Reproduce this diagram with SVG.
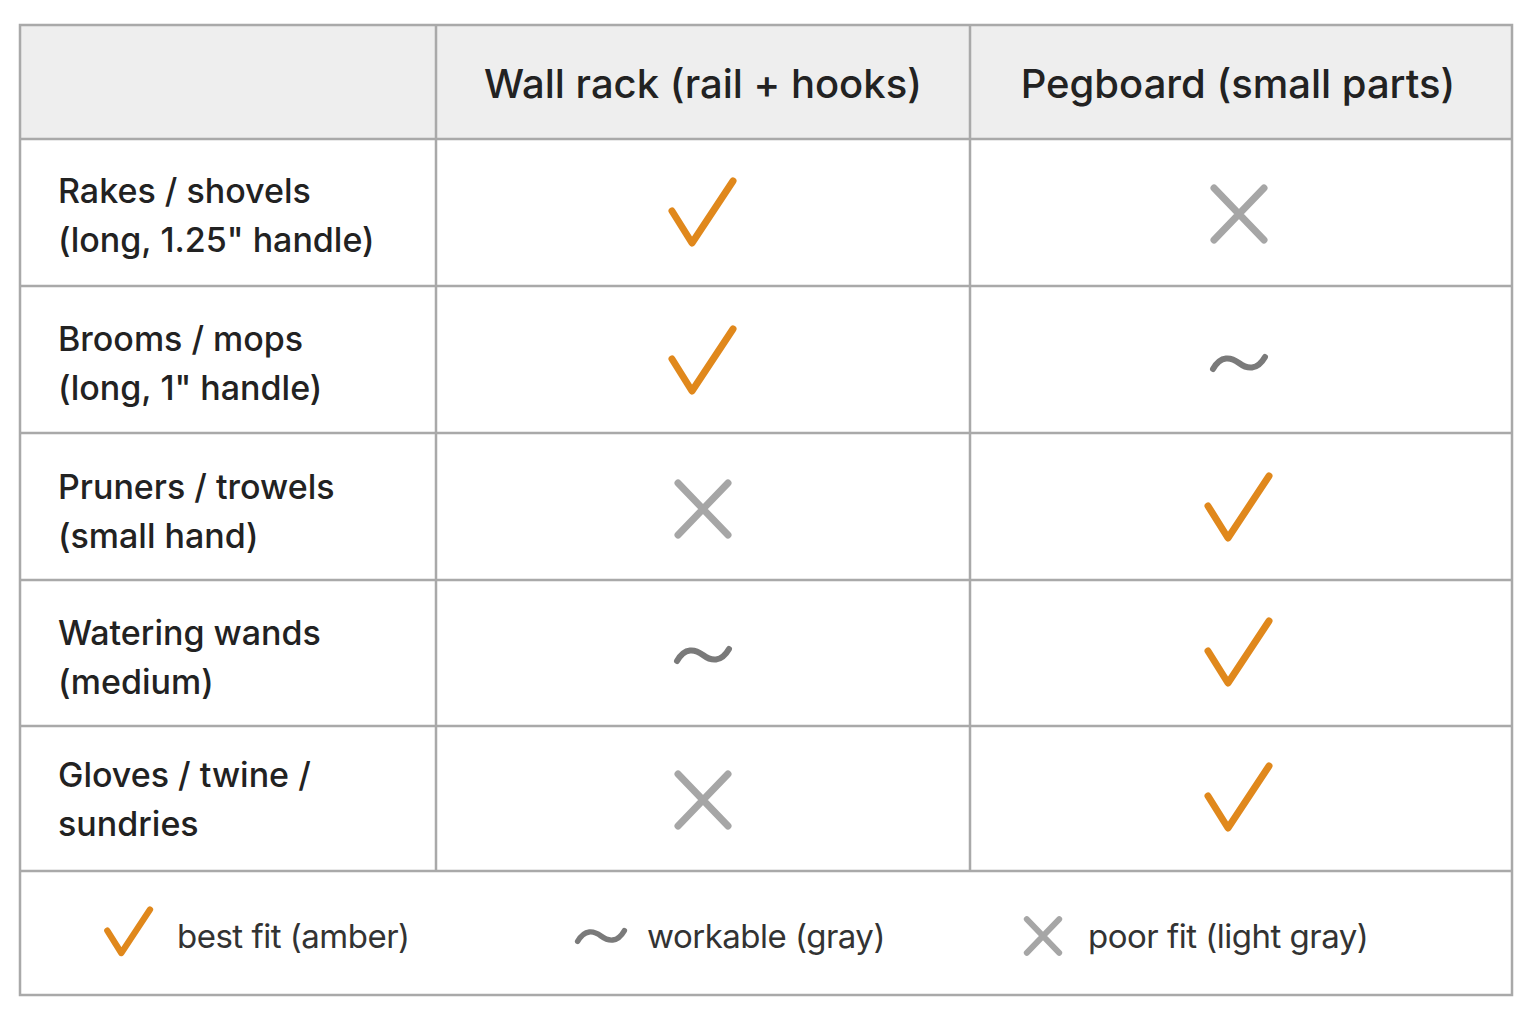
<svg xmlns="http://www.w3.org/2000/svg" xmlns:xlink="http://www.w3.org/1999/xlink" width="1536" height="1024" viewBox="0 0 1536 1024">
<style>
.grid{stroke:#a9a9a9;stroke-width:2.5;fill:none}
.hd{font-family:Inter,"Liberation Sans",sans-serif;font-size:40px;font-weight:500;fill:#222;text-anchor:middle}
.lb{font-family:Inter,"Liberation Sans",sans-serif;font-size:34px;font-weight:500;fill:#222}
.lg{font-family:Inter,"Liberation Sans",sans-serif;font-size:33px;fill:#333;letter-spacing:-0.5px}
.ck{stroke:#e0881c;stroke-width:7;fill:none;stroke-linecap:round;stroke-linejoin:round}
.xx{stroke:#a6a6a6;stroke-width:7;fill:none;stroke-linecap:round}
.tl{stroke:#7a7a7a;stroke-width:6;fill:none;stroke-linecap:round}
.ckl{stroke:#e0881c;stroke-width:9;fill:none;stroke-linecap:round;stroke-linejoin:round}
.xxl{stroke:#a6a6a6;stroke-width:9;fill:none;stroke-linecap:round}
</style>
<defs>
<path id="check" d="M-31,-2 L-11,30 L30,-32"/>
<path id="cross" d="M-25,-26 L25,26 M25,-26 L-25,26"/>
<path id="tilde" d="M-26,6 C-18,-8 -8,-6 0,0 C8,6 18,8 26,-6"/>
</defs>
<rect x="0" y="0" width="1536" height="1024" fill="#fff"/>
<g id="table">
<rect x="20" y="25" width="1492" height="114" fill="#eeeeee"/>
<rect x="20" y="25" width="1492" height="970" class="grid"/>
<path class="grid" d="M20,139H1512 M20,286H1512 M20,433H1512 M20,580H1512 M20,726H1512 M20,871H1512 M436,25V871 M970,25V871"/>
</g>
<g id="header">
<text class="hd" x="703" y="98">Wall rack (rail + hooks)</text>
<text class="hd" x="1238" y="98">Pegboard (small parts)</text>
</g>
<g id="row1">
<text class="lb" x="58" y="203">Rakes / shovels</text>
<text class="lb" x="58" y="252">(long, 1.25" handle)</text>
<use xlink:href="#check" class="ck" x="703" y="213"/>
<use xlink:href="#cross" class="xx" x="1239" y="214"/>
</g>
<g id="row2">
<text class="lb" x="58" y="351">Brooms / mops</text>
<text class="lb" x="58" y="400">(long, 1" handle)</text>
<use xlink:href="#check" class="ck" x="703" y="361"/>
<use xlink:href="#tilde" class="tl" x="1239" y="363"/>
</g>
<g id="row3">
<text class="lb" x="58" y="499">Pruners / trowels</text>
<text class="lb" x="58" y="548">(small hand)</text>
<use xlink:href="#cross" class="xx" x="703" y="509"/>
<use xlink:href="#check" class="ck" x="1239" y="508"/>
</g>
<g id="row4">
<text class="lb" x="58" y="645">Watering wands</text>
<text class="lb" x="58" y="694">(medium)</text>
<use xlink:href="#tilde" class="tl" x="703" y="655"/>
<use xlink:href="#check" class="ck" x="1239" y="653"/>
</g>
<g id="row5">
<text class="lb" x="58" y="787">Gloves / twine /</text>
<text class="lb" x="58" y="836">sundries</text>
<use xlink:href="#cross" class="xx" x="703" y="800"/>
<use xlink:href="#check" class="ck" x="1239" y="798"/>
</g>
<g id="legend">
<use xlink:href="#check" class="ckl" x="129" y="932" transform="translate(129 932) scale(0.7) translate(-129 -932)"/>
<text class="lg" x="177" y="948">best fit (amber)</text>
<use xlink:href="#tilde" class="tl" x="601" y="936" transform="translate(601 936) scale(0.9) translate(-601 -936)"/>
<text class="lg" x="647" y="948">workable (gray)</text>
<use xlink:href="#cross" class="xxl" x="1043" y="936" transform="translate(1043 936) scale(0.65) translate(-1043 -936)"/>
<text class="lg" x="1088" y="948">poor fit (light gray)</text>
</g>
</svg>
